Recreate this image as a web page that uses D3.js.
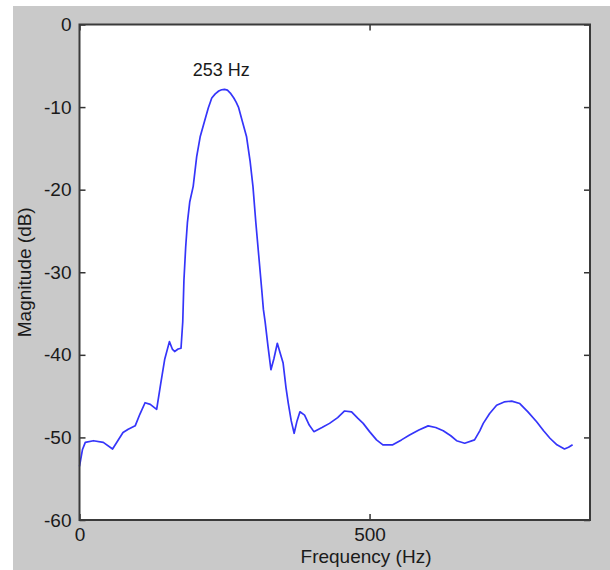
<!DOCTYPE html>
<html>
<head>
<meta charset="utf-8">
<script src="https://cdn.jsdelivr.net/npm/d3@7"></script>
<style>
  body { margin: 0; background: #fff; }
  text { font-family: "Liberation Sans", Arial, sans-serif; fill: #1a1a1a; }
</style>
</head>
<body>
<svg id="chart" width="610" height="570"></svg>
<script>
// spectrum
var freqHz = [0, 5, 10, 24, 41, 57, 66, 75, 84, 96, 104, 113, 122, 133, 140, 147, 155, 160, 164, 170,
  175, 178, 180, 183, 186, 190, 196, 202, 208, 216, 222, 228, 234, 240, 245, 250, 255, 260, 266, 270, 274, 281, 288, 294, 299,
  304, 309, 314, 317, 320, 325, 330, 335, 341, 346, 351, 356, 360, 365, 370, 375, 380, 388, 396, 404,
  418, 431, 445, 457, 469, 480, 489, 500, 512, 523, 540, 555, 569, 585, 601, 614, 627, 640, 650, 664,
  681, 690, 696, 707, 719, 732, 745, 759, 773, 788, 800, 811, 823, 836, 843, 850];
var magDb = [-53.5, -51.5, -50.6, -50.4, -50.6, -51.4, -50.4, -49.4, -49.0, -48.6, -47.2, -45.8, -46.0, -46.6, -43.5, -40.5, -38.4, -39.3, -39.6, -39.3,
  -39.2, -36, -31, -27, -24, -21.5, -19.6, -16, -13.6, -11.6, -10.1, -8.9, -8.4, -8.05, -7.9, -7.85, -7.95, -8.3, -8.9, -9.4, -10, -11.8, -13.6, -16.5, -19.6,
  -24, -28, -32, -34.5, -36, -39, -41.8, -40.5, -38.6, -39.8, -41, -44, -45.9, -48, -49.5, -48, -46.9, -47.3, -48.5, -49.3,
  -48.8, -48.3, -47.6, -46.8, -46.9, -47.7, -48.3, -49.3, -50.3, -50.9, -50.9, -50.3, -49.7, -49.1, -48.6, -48.8, -49.2, -49.8, -50.4, -50.7,
  -50.3, -49.2, -48.3, -47.1, -46.1, -45.7, -45.6, -45.9, -46.9, -48.1, -49.2, -50.1, -50.9, -51.4, -51.2, -50.9];

var xTicks = [0, 500];
var yTicks = [0, -10, -20, -30, -40, -50, -60];
var peakFreq = 253;
var peakDb = -7.9;

var svg = d3.select("#chart");

svg.append("rect")
    .attr("x", 13).attr("y", 6)
    .attr("width", 597).attr("height", 564)
    .attr("fill", "#c9c9c9");

var plotL = 79.5, plotR = 590, plotT = 24.5, plotB = 520;

var x = d3.scaleLinear().domain([0, 880]).range([plotL, plotR]);
var y = d3.scaleLinear().domain([-60, 0]).range([plotB, plotT]);

svg.append("rect")
    .attr("x", plotL).attr("y", plotT)
    .attr("width", plotR - plotL).attr("height", plotB - plotT)
    .attr("fill", "#fff");

var line = d3.line()
    .x(function(d, i) { return x(freqHz[i]); })
    .y(function(d) { return y(d); });

svg.append("path")
    .datum(magDb)
    .attr("fill", "none")
    .attr("stroke", "#3535fa")
    .attr("stroke-width", 1.7)
    .attr("stroke-linejoin", "round")
    .attr("d", line);

var fmt = function(d) { return String(d); };

var gLeft = svg.append("g")
    .attr("transform", "translate(" + plotL + ",0)")
    .call(d3.axisLeft(y).tickValues(yTicks).tickSize(-6).tickPadding(8).tickFormat(fmt));
var gRight = svg.append("g")
    .attr("transform", "translate(" + plotR + ",0)")
    .call(d3.axisRight(y).tickValues(yTicks).tickSize(-6).tickFormat(""));
var gBottom = svg.append("g")
    .attr("transform", "translate(0," + plotB + ")")
    .call(d3.axisBottom(x).tickValues(xTicks).tickSize(-6).tickPadding(8).tickFormat(fmt));
var gTop = svg.append("g")
    .attr("transform", "translate(0," + plotT + ")")
    .call(d3.axisTop(x).tickValues(xTicks).tickSize(-6).tickFormat(""));

[gLeft, gRight, gBottom, gTop].forEach(function(g) {
  g.select(".domain").remove();
  g.selectAll(".tick line").attr("stroke", "#333").attr("stroke-width", 1.5);
  g.selectAll(".tick text").attr("font-size", 19).attr("font-family", null);
});

svg.append("rect")
    .attr("x", plotL).attr("y", plotT)
    .attr("width", plotR - plotL).attr("height", plotB - plotT)
    .attr("fill", "none")
    .attr("stroke", "#3a3a3a")
    .attr("stroke-width", 2);

svg.append("text")
    .attr("x", x(peakFreq) - 5)
    .attr("y", y(peakDb) - 14)
    .attr("text-anchor", "middle")
    .attr("font-size", 18)
    .text(peakFreq + " Hz");

svg.append("text")
    .attr("x", 366)
    .attr("y", 563)
    .attr("text-anchor", "middle")
    .attr("font-size", 19)
    .text("Frequency (Hz)");

svg.append("text")
    .attr("transform", "translate(31," + ((plotT + plotB) / 2) + ") rotate(-90)")
    .attr("text-anchor", "middle")
    .attr("font-size", 19)
    .text("Magnitude (dB)");
</script>
</body>
</html>
